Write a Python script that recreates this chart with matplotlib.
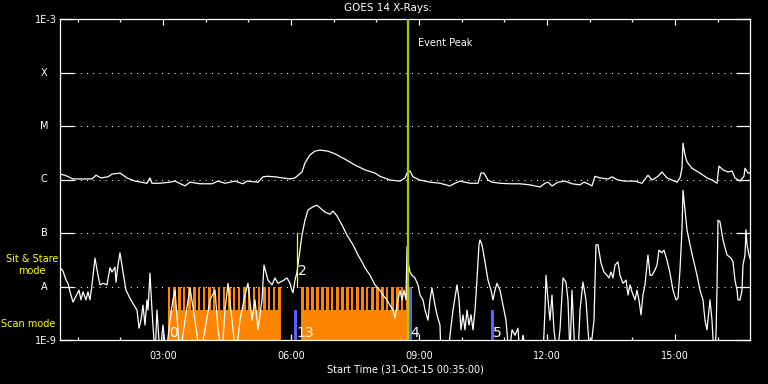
import matplotlib
matplotlib.use('Agg')
import matplotlib.pyplot as plt
from matplotlib.ticker import FixedLocator, MultipleLocator, NullFormatter
import numpy as np

# ---------------- data ----------------
# GOES 1-8 A channel (hours since 00:00 31-Oct-15, log10 flux W/m^2)
long_time = [0.583, 0.700, 0.888, 1.333, 1.427, 1.544, 1.708, 1.802, 1.989, 2.153,
             2.341, 2.622, 2.692, 2.739, 2.927, 3.161, 3.278, 3.513, 3.630, 3.864,
             4.145, 4.286, 4.450, 4.685, 4.872, 4.966, 5.224, 5.341, 5.435, 5.622,
             5.974, 6.091, 6.255, 6.325, 6.442, 6.559, 6.677, 6.864, 7.028, 7.262,
             7.497, 7.731, 7.965, 8.083, 8.317, 8.551, 8.669, 8.716, 8.786, 8.856,
             9.020, 9.255, 9.489, 9.723, 9.840, 9.958, 10.192, 10.380, 10.450, 10.520,
             10.614, 10.708, 10.895, 11.130, 11.364, 11.598, 11.833, 11.950, 12.020, 12.114,
             12.255, 12.419, 12.583, 12.770, 12.864, 12.958, 13.051, 13.122, 13.239, 13.427,
             13.520, 13.661, 13.825, 14.059, 14.223, 14.364, 14.458, 14.598, 14.692, 14.809,
             15.044, 15.114, 15.161, 15.184, 15.231, 15.278, 15.395, 15.583, 15.747, 15.864,
             15.981, 16.028, 16.122, 16.239, 16.333, 16.403, 16.520, 16.614, 16.638, 16.708,
             16.755]
long_logflux = [-5.90, -5.92, -5.99, -5.99, -5.92, -5.97, -5.95, -5.90, -5.88, -5.97,
                -6.03, -6.07, -5.97, -6.07, -6.07, -6.05, -6.03, -6.12, -6.05, -6.08,
                -6.08, -6.03, -6.07, -6.03, -6.08, -6.03, -6.05, -5.95, -5.94, -5.95,
                -5.99, -5.97, -5.86, -5.69, -5.54, -5.47, -5.45, -5.47, -5.52, -5.62,
                -5.73, -5.82, -5.88, -5.94, -6.01, -6.03, -5.97, -5.88, -5.84, -5.95,
                -6.01, -6.05, -6.07, -6.12, -6.07, -6.03, -6.07, -6.07, -5.88, -5.88,
                -6.01, -6.05, -6.07, -6.08, -6.08, -6.10, -6.14, -6.07, -6.05, -6.12,
                -6.05, -6.03, -6.08, -6.10, -6.05, -6.08, -6.12, -5.94, -5.97, -5.99,
                -5.95, -6.01, -6.03, -6.03, -6.07, -5.92, -6.01, -5.94, -5.86, -5.97,
                -6.05, -5.97, -5.79, -5.32, -5.54, -5.67, -5.79, -5.88, -5.97, -6.01,
                -6.07, -5.75, -5.82, -5.86, -5.84, -5.97, -6.03, -5.94, -5.79, -5.88,
                -5.88]

# GOES 0.5-4 A channel
short_time = [0.607, 0.653, 0.724, 0.771, 0.818, 0.888, 0.958, 1.028, 1.075, 1.122,
              1.192, 1.239, 1.286, 1.333, 1.403, 1.474, 1.521, 1.591, 1.685, 1.755,
              1.802, 1.872, 1.896, 1.942, 1.989, 2.060, 2.130, 2.224, 2.317, 2.388,
              2.435, 2.481, 2.528, 2.575, 2.622, 2.646, 2.692, 2.739, 2.810, 2.856,
              2.927, 2.997, 3.067, 3.161, 3.231, 3.278, 3.349, 3.396, 3.513, 3.630,
              3.747, 3.864, 3.981, 4.099, 4.216, 4.286, 4.380, 4.450, 4.521, 4.614,
              4.708, 4.802, 4.919, 4.989, 5.083, 5.153, 5.224, 5.317, 5.364, 5.458,
              5.552, 5.622, 5.692, 5.786, 5.833, 5.903, 5.974, 6.020, 6.044, 6.091,
              6.138, 6.208, 6.255, 6.325, 6.396, 6.513, 6.606, 6.677, 6.794, 6.911,
              6.981, 7.075, 7.192, 7.310, 7.450, 7.567, 7.661, 7.731, 7.849, 7.966,
              8.083, 8.153, 8.247, 8.317, 8.388, 8.435, 8.481, 8.552, 8.599, 8.646,
              8.692, 8.716, 8.739, 8.786, 8.833, 8.903, 8.974, 9.021, 9.091, 9.138,
              9.208, 9.255, 9.302, 9.372, 9.419, 9.489, 9.513, 9.677, 9.724, 9.794,
              9.888, 9.935, 9.981, 10.028, 10.075, 10.122, 10.169, 10.216, 10.263, 10.310,
              10.356, 10.403, 10.427, 10.474, 10.544, 10.614, 10.685, 10.731, 10.778, 10.825,
              10.896, 10.966, 11.036, 11.106, 11.177, 11.247, 11.317, 11.364, 11.435, 11.528,
              11.903, 11.950, 11.974, 12.021, 12.067, 12.114, 12.161, 12.231, 12.302, 12.372,
              12.442, 12.489, 12.536, 12.583, 12.653, 12.724, 12.771, 12.841, 12.911, 12.958,
              13.005, 13.099, 13.146, 13.192, 13.263, 13.333, 13.403, 13.450, 13.497, 13.544,
              13.591, 13.661, 13.708, 13.778, 13.849, 13.896, 13.942, 13.989, 14.060, 14.106,
              14.153, 14.200, 14.247, 14.294, 14.364, 14.411, 14.458, 14.528, 14.575, 14.622,
              14.692, 14.739, 14.810, 14.880, 14.950, 15.021, 15.067, 15.114, 15.161, 15.185,
              15.231, 15.278, 15.349, 15.419, 15.513, 15.583, 15.653, 15.700, 15.747, 15.794,
              15.817, 15.864, 15.911, 15.958, 15.981, 16.005, 16.052, 16.122, 16.216, 16.310,
              16.356, 16.403, 16.450, 16.474, 16.521, 16.567, 16.591, 16.638, 16.661, 16.685,
              16.731, 16.755]
short_logflux = [-7.67, -7.71, -7.88, -7.94, -8.10, -8.29, -8.18, -8.07, -8.25, -8.10,
                 -8.25, -8.10, -8.25, -7.97, -7.47, -7.79, -7.97, -7.94, -7.97, -7.65,
                 -7.73, -7.64, -7.92, -7.60, -7.37, -7.73, -8.07, -8.22, -8.35, -8.44,
                 -8.78, -8.63, -8.35, -8.72, -8.25, -8.44, -7.75, -8.44, -9.30, -8.44,
                 -9.30, -8.72, -9.30, -8.63, -8.25, -8.07, -8.81, -9.30, -8.63, -8.03,
                 -8.63, -9.30, -8.81, -8.25, -8.07, -8.81, -9.30, -8.44, -7.94, -8.63,
                 -9.30, -8.63, -8.16, -7.94, -8.63, -8.25, -8.81, -8.25, -7.60, -7.88,
                 -7.97, -7.84, -7.94, -7.90, -7.88, -7.84, -7.94, -8.07, -8.12, -7.88,
                 -7.73, -7.32, -7.04, -6.76, -6.57, -6.51, -6.48, -6.53, -6.61, -6.65,
                 -6.59, -6.68, -6.85, -7.04, -7.22, -7.41, -7.54, -7.65, -7.79, -7.97,
                 -8.07, -8.16, -8.25, -8.35, -8.44, -8.59, -8.35, -8.07, -8.25, -8.07,
                 -8.25, -7.26, -7.54, -7.73, -7.79, -7.84, -7.97, -8.16, -8.25, -8.44,
                 -8.63, -8.25, -8.03, -8.35, -8.53, -8.72, -9.30, -9.30, -8.91, -8.44,
                 -7.97, -8.25, -8.81, -8.53, -8.81, -8.44, -8.72, -8.53, -8.81, -8.44,
                 -7.88, -7.22, -7.13, -7.22, -7.54, -7.88, -8.07, -8.25, -8.07, -7.94,
                 -8.07, -8.35, -8.63, -9.30, -8.81, -8.91, -8.78, -9.30, -8.91, -9.30,
                 -9.30, -8.44, -7.79, -8.25, -8.63, -8.16, -8.81, -9.30, -8.81, -7.84,
                 -7.92, -8.25, -9.30, -8.07, -9.30, -9.30, -8.44, -7.92, -8.25, -8.81,
                 -9.30, -8.63, -7.22, -7.22, -7.56, -7.73, -7.79, -7.84, -7.73, -7.84,
                 -7.60, -7.54, -7.79, -7.94, -7.88, -8.16, -7.97, -8.10, -8.25, -8.07,
                 -8.25, -8.53, -8.16, -7.97, -7.41, -7.79, -7.79, -7.69, -7.60, -7.32,
                 -7.37, -7.32, -7.51, -7.75, -8.07, -8.25, -8.22, -7.69, -6.94, -6.20,
                 -6.57, -6.94, -7.22, -7.47, -7.79, -8.07, -8.25, -8.63, -8.81, -8.44,
                 -8.25, -8.63, -9.30, -8.91, -8.07, -6.76, -6.79, -7.13, -7.41, -7.47,
                 -7.54, -7.88, -8.07, -8.25, -8.25, -8.07, -7.60, -7.41, -6.94, -7.22,
                 -7.41, -7.47]

t_start, t_end = 35 / 60, 16.755
level_values = [1e-9, 1e-8, 1e-7, 1e-6, 1e-5, 1e-4, 1e-3]
level_labels = ['1E-9', 'A', 'B', 'C', 'M', 'X', '1E-3']
hour_ticks = [3, 6, 9, 12, 15]
hour_labels = ['03:00', '06:00', '09:00', '12:00', '15:00']

# IRIS observation markers
sns_starts = [3.11, 3.23, 3.35, 3.46, 3.58, 3.70, 3.81, 3.93, 4.05, 4.16, 4.28, 4.40,
              4.52, 4.63, 4.75, 4.87, 4.98, 5.10, 5.22, 5.34, 5.45, 5.57, 5.69,
              6.23, 6.35, 6.47, 6.58, 6.70, 6.82, 6.93, 7.05, 7.17, 7.29, 7.40, 7.52,
              7.64, 7.75, 7.87, 7.99, 8.11, 8.22, 8.34, 8.46, 8.57, 8.69]
scan_block_start = [3.115, 6.23]
scan_block_end = [5.75, 8.75]
scan_top = 3.64e-9
sns_top = 1e-8
raster_times = [6.067, 8.763, 10.685]
raster_tops = [3.64e-9, 1e-8, 3.64e-9]
obs_labels = ['0', '13', '4', '5']
obs_label_times = [3.14, 6.12, 8.80, 10.72]
mode_switch_time = 6.138
mode_switch_label = '2'
event_peak = 8.74

# ---------------- figure ----------------
W, H = 768, 384
fig = plt.figure(figsize=(7.68, 3.84), dpi=100, facecolor='black')
ax = fig.add_axes([60 / W, 44 / H, 690 / W, 321 / H])
ax.set_facecolor('black')
ax.set_yscale('log')
ax.set_xlim(t_start, t_end)
ax.set_ylim(1e-9, 1e-3)

orange = '#ff8400'
blue = '#6060ff'

# solid scan blocks
ax.bar(scan_block_start, [scan_top - 1e-9] * len(scan_block_start),
       width=np.array(scan_block_end) - np.array(scan_block_start),
       bottom=1e-9, align='edge', color=orange, linewidth=0, zorder=2)
# sit & stare bars
ax.bar(sns_starts, [sns_top - 1e-9] * len(sns_starts), width=0.062,
       bottom=1e-9, align='edge', color=orange, linewidth=0, zorder=2)
# raster markers
ax.bar(raster_times, np.array(raster_tops) - 1e-9, width=0.068,
       bottom=1e-9, align='edge', color=blue, linewidth=0, zorder=3)

# grid dotted lines
for v in level_values[1:-1]:
    ax.axhline(v, xmin=14 / 690, xmax=1 - 14 / 690, color='white', lw=0.75,
               linestyle=(0, (1, 5)), zorder=1)

# curves
ax.plot(long_time, 10 ** np.array(long_logflux), color='white', lw=0.9, zorder=4)
ax.plot(short_time, 10 ** np.array(short_logflux), color='white', lw=0.9, zorder=4)

# event lines
ax.axvline(event_peak, color='#a0d000', lw=1.6, zorder=5)
ax.plot([mode_switch_time, mode_switch_time], [1e-8, 1e-7], color='#ffff00', lw=0.9, zorder=5)

# labels on plot
for lbl, t in zip(obs_labels, obs_label_times):
    ax.text(t, 1.33e-9, lbl, color='white', fontsize=10, ha='left', va='center', zorder=6)
ax.text(mode_switch_time + 0.03, 1.95e-8, mode_switch_label, color='white', fontsize=10,
        ha='left', va='center', zorder=6)
ax.text(event_peak + 0.23, 10 ** -3.45, 'Event Peak', color='white', fontsize=7,
        ha='left', va='center', zorder=6)

# axes styling
for s in ax.spines.values():
    s.set_color('white')
    s.set_linewidth(0.9)
ax.xaxis.set_major_locator(FixedLocator(hour_ticks))
ax.xaxis.set_minor_locator(MultipleLocator(1))
ax.set_xticklabels(hour_labels)
ax.xaxis.set_minor_formatter(NullFormatter())
ax.yaxis.set_major_locator(FixedLocator(level_values))
ax.yaxis.set_minor_locator(FixedLocator([]))
ax.set_yticklabels([l if l.startswith('1E') else '' for l in level_labels])
ax.tick_params(axis='x', which='major', direction='in', top=True, bottom=True,
               length=4.5, width=0.9, color='white', labelcolor='white', labelsize=7, pad=8)
ax.tick_params(axis='x', which='minor', direction='in', top=True, bottom=True,
               length=2.2, width=0.9, color='white')
ax.tick_params(axis='y', which='major', direction='in', left=True, right=True,
               length=10, width=0.9, color='white', labelcolor='white', labelsize=7, pad=2)
for lbl, v in zip(level_labels, level_values):
    if not lbl.startswith('1E'):
        ax.annotate(lbl, xy=(0, v), xycoords=('axes fraction', 'data'), xytext=(-16, 0),
                    textcoords='offset pixels', ha='center', va='center', color='white',
                    fontsize=7, annotation_clip=False)

fig.text(32 / W, 1 - 265 / H, 'Sit & Stare\nmode', color='#ffff00', fontsize=7,
         ha='center', va='center', linespacing=1.2)
fig.text(28 / W, 1 - 324 / H, 'Scan mode', color='#ffff00', fontsize=7,
         ha='center', va='center')
fig.text(388 / W, 1 - 8 / H, 'GOES 14 X-Rays:', color='white', fontsize=7.5,
         ha='center', va='center')
fig.text(405 / W, 1 - 369 / H, 'Start Time (31-Oct-15 00:35:00)', color='white',
         fontsize=7, ha='center', va='center')

fig.savefig('out.png', dpi=100, facecolor='black')
